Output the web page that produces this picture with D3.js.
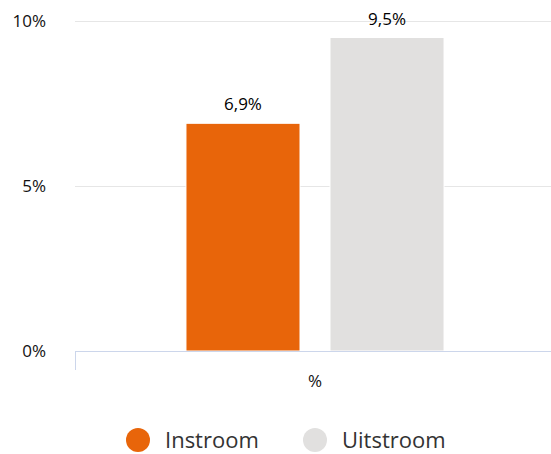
<!DOCTYPE html>
<html><head><meta charset="utf-8">
<script src="https://cdn.jsdelivr.net/npm/d3@7"></script>
<style>body{margin:0;background:#fff;}svg{display:block;font-family:"Open Sans",sans-serif;}</style>
</head><body><svg id="c" width="551" height="454"></svg>
<script>
const categories = ["%"];
const seriesNames = ["Instroom", "Uitstroom"];
const seriesValues = [6.9, 9.5];
const seriesColors = ["#e8650a", "#e1e0df"];
const yTicks = [0, 5, 10];

(function () {
const svg = d3.select("#c");
const plotLeft = 75, plotRight = 551, plotTop = 21, plotBottom = 351;
const y = d3.scaleLinear().domain([0, 10]).range([plotBottom, plotTop]);
const x0 = d3.scaleBand().domain(categories).range([75, 555]).paddingInner(0).paddingOuter(0.43);
const x1 = d3.scaleBand().domain(seriesNames).range([0, x0.bandwidth()]).paddingInner(0.2083).paddingOuter(0);
const fmt = v => d3.format(".1f")(v).replace(".", ",") + "%";

// gridlines
svg.append("g").selectAll("line").data(yTicks.filter(t => t > 0)).join("line")
  .attr("x1", plotLeft).attr("x2", plotRight)
  .attr("y1", d => Math.round(y(d)) + 0.5).attr("y2", d => Math.round(y(d)) + 0.5)
  .attr("stroke", "#e6e6e6").attr("stroke-width", 1);

// y tick labels
svg.append("g").selectAll("text").data(yTicks).join("text")
  .attr("x", 46).attr("y", d => y(d)).attr("dy", "0.35em")
  .attr("text-anchor", "end").attr("font-size", 17).attr("fill", "#111")
  .text(d => d + "%");

// bars
const g = svg.append("g").attr("transform", `translate(${x0(categories[0])},0)`);
g.selectAll("rect").data(seriesNames).join("rect")
  .attr("x", d => x1(d)).attr("width", x1.bandwidth())
  .attr("y", (d, i) => y(seriesValues[i])).attr("height", (d, i) => y(0) - y(seriesValues[i]))
  .attr("fill", (d, i) => seriesColors[i]).attr("stroke", "#fff").attr("stroke-width", 1);

// data labels
g.selectAll("text").data(seriesNames).join("text")
  .attr("x", d => x1(d) + x1.bandwidth() / 2).attr("y", (d, i) => y(seriesValues[i]) - 13)
  .attr("text-anchor", "middle").attr("font-size", 17).attr("fill", "#000")
  .text((d, i) => fmt(seriesValues[i]));

// x axis
svg.append("line").attr("x1", plotLeft).attr("x2", plotRight).attr("y1", 351.5).attr("y2", 351.5)
  .attr("stroke", "#ccd6eb").attr("stroke-width", 1);
svg.append("line").attr("x1", plotLeft + 0.5).attr("x2", plotLeft + 0.5).attr("y1", 351).attr("y2", 370)
  .attr("stroke", "#ccd6eb").attr("stroke-width", 1);
svg.append("text").attr("x", x0(categories[0]) + x0.bandwidth() / 2).attr("y", 381).attr("dy", "0.35em")
  .attr("text-anchor", "middle").attr("font-size", 17).attr("fill", "#111").text(categories[0]);

// legend
const legX = [138, 315];
const leg = svg.append("g").selectAll("g").data(seriesNames).join("g")
  .attr("transform", (d, i) => `translate(${legX[i]},440)`);
leg.append("circle").attr("r", 12).attr("fill", (d, i) => seriesColors[i]);
leg.append("text").attr("x", 27).attr("dy", "0.35em").attr("font-size", 22).attr("fill", "#333").text(d => d);
})();
</script></body></html>
